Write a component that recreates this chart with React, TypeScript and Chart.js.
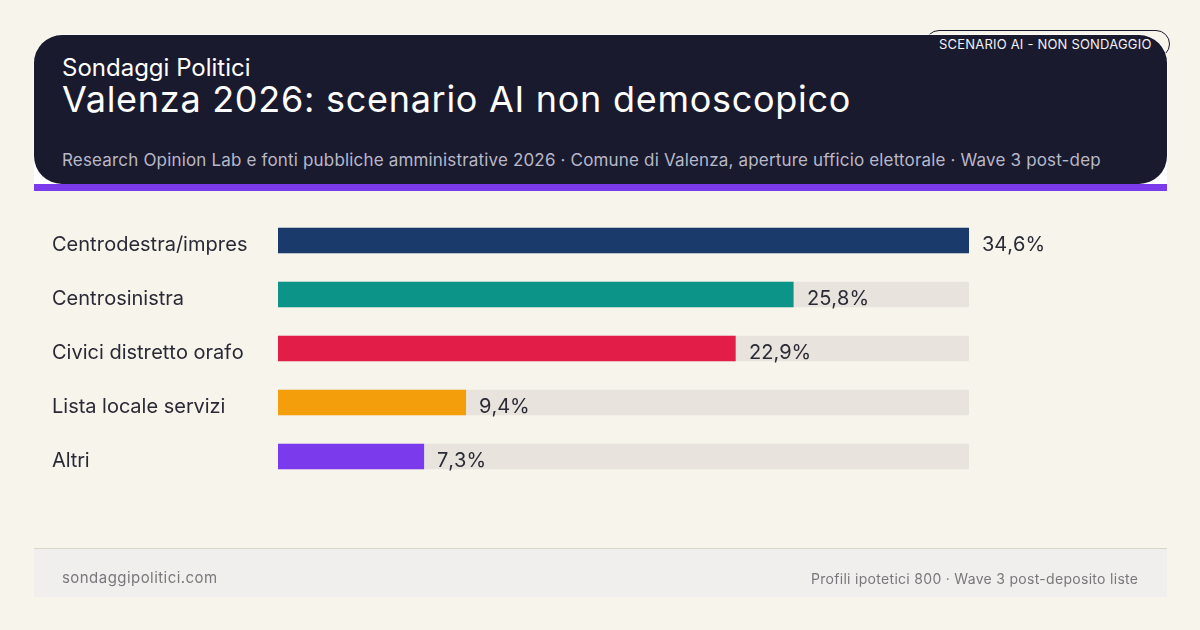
import { useEffect, useRef } from 'react';
import { Chart, registerables } from 'chart.js';
import type { Plugin } from 'chart.js';

Chart.register(...registerables);

const parties = ['Centrodestra/impres', 'Centrosinistra', 'Civici distretto orafo', 'Lista locale servizi', 'Altri'];
const shares = [34.6, 25.8, 22.9, 9.4, 7.3];
const shareLabels = ['34,6%', '25,8%', '22,9%', '9,4%', '7,3%'];
const track = [34.6, 34.6, 34.6, 34.6, 34.6];
const barColors = ['#1a3a6b', '#0d9488', '#e11d48', '#f59e0b', '#7c3aed'];

const FONT = 'Inter, sans-serif';
const INK = '#2a2a36';
const PAGE = '#f7f4ec';

// category names and value labels, placed off the chart's own scales
const labelsPlugin: Plugin<'bar'> = {
  id: 'barLabels',
  afterDatasetsDraw(chart) {
    const { ctx } = chart;
    const bars = chart.getDatasetMeta(1).data;
    ctx.save();
    ctx.font = `400 20px ${FONT}`;
    ctx.fontKerning = 'none';
    ctx.fillStyle = INK;
    ctx.textBaseline = 'middle';
    ctx.textAlign = 'left';
    bars.forEach((bar, i) => {
      ctx.fillText(parties[i], 52, bar.y + 4.5);
      ctx.fillText(shareLabels[i], Math.ceil(bar.x) + 13, bar.y + 4.5);
    });
    ctx.restore();
  }
};

const abs = (left: number, top: number, extra: React.CSSProperties = {}): React.CSSProperties => ({
  position: 'absolute',
  left,
  top,
  whiteSpace: 'nowrap',
  ...extra
});

export default function App() {
  const ref = useRef<HTMLCanvasElement | null>(null);

  useEffect(() => {
    if (!ref.current) return;
    const chart = new Chart(ref.current, {
      type: 'bar',
      data: {
        labels: parties,
        datasets: [
          {
            data: track,
            backgroundColor: '#e8e3dc',
            borderRadius: 2,
            barThickness: 25,
            grouped: false,
            order: 2
          },
          {
            data: shares,
            backgroundColor: barColors,
            barThickness: 25,
            grouped: false,
            order: 1
          }
        ]
      },
      options: {
        indexAxis: 'y',
        responsive: false,
        animation: false,
        devicePixelRatio: 1,
        layout: { padding: { left: 278, right: 231, top: 213.5, bottom: 146.5 } },
        plugins: { legend: { display: false }, tooltip: { enabled: false } },
        scales: {
          x: { display: false, min: 0, max: 34.6 },
          y: { display: false }
        }
      },
      plugins: [labelsPlugin]
    });
    return () => chart.destroy();
  }, []);

  return (
    <div style={abs(0, 0, { width: 1200, height: 630, background: PAGE, overflow: 'hidden', fontFamily: FONT })}>
      {/* badge sits behind the header, only its top edge pokes out */}
      <div style={abs(925, 30, { width: 245, height: 28, boxSizing: 'border-box', border: '1px solid #1a1a2e', borderRadius: 14, background: PAGE })} />
      <div style={abs(34, 150, { width: 1133, height: 34, background: '#fff' })} />
      <div style={abs(34, 35, { width: 1133, height: 149, background: '#1a1a2e', borderRadius: 28, boxShadow: '0 0 0 0.5px #fff' })} />
      <div style={abs(34, 184, { width: 1133, height: 7, background: '#7c3aed' })} />
      <div style={abs(939, 36, { fontSize: 13, lineHeight: '16px', color: '#f1f1f6', letterSpacing: 0.2 })}>SCENARIO AI - NON SONDAGGIO</div>
      <div style={abs(62, 53, { fontSize: 24, lineHeight: '29px', color: '#fff' })}>Sondaggi Politici</div>
      <div style={abs(62, 76, { fontSize: 36, lineHeight: '46px', color: '#fff', letterSpacing: 0.72 })}>Valenza 2026: scenario AI non demoscopico</div>
      <div style={abs(62, 150, { fontSize: 17, lineHeight: '20px', color: '#b8b8c8', letterSpacing: 0.17 })}>
        Research Opinion Lab e fonti pubbliche amministrative 2026 · Comune di Valenza, aperture ufficio elettorale · Wave 3 post-dep
      </div>

      <canvas ref={ref} width={1200} height={630} style={abs(0, 0, { display: 'block' })} />

      <div style={abs(34, 548, { width: 1133, height: 49, boxSizing: 'border-box', borderTop: '1px solid #d8d6cc', background: '#f0efed' })} />
      <div style={abs(62, 569, { fontSize: 15, lineHeight: '18px', color: '#78787c', letterSpacing: 0.45 })}>sondaggipolitici.com</div>
      <div style={abs(0, 570, { width: 1138.3, textAlign: 'right', fontSize: 14, lineHeight: '18px', color: '#78787c', letterSpacing: 0.3 })}>
        Profili ipotetici 800 · Wave 3 post-deposito liste
      </div>
    </div>
  );
}
